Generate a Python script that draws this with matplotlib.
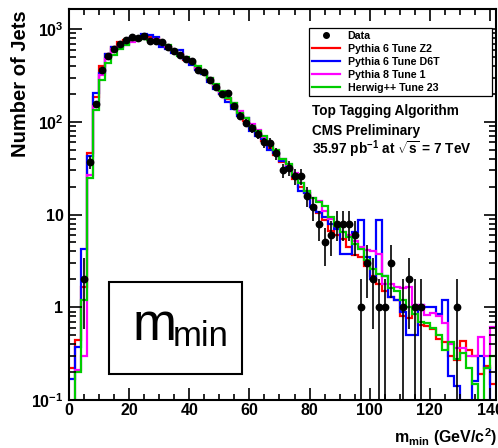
import numpy as np
import matplotlib
matplotlib.use("Agg")
import matplotlib.pyplot as plt
from matplotlib.lines import Line2D
from matplotlib.patches import Rectangle
from matplotlib.ticker import FixedLocator, FixedFormatter, MultipleLocator, LogLocator, NullFormatter

plt.rcParams['font.family'] = ['Liberation Sans', 'DejaVu Sans']
plt.rcParams['font.weight'] = 'bold'
plt.rcParams['mathtext.fontset'] = 'custom'
plt.rcParams['mathtext.rm'] = 'Liberation Sans:bold'
plt.rcParams['mathtext.bf'] = 'Liberation Sans:bold'
plt.rcParams['mathtext.it'] = 'Liberation Sans:bold'

# 2 GeV bins from 0 to 142
bin_edges = np.arange(0, 144, 2)
bin_centers = bin_edges[:-1] + 1

# data counts per bin (0 = empty)
data_counts = [0, 0, 2, 37, 156, 363, 513, 618, 690, 765,
               825, 798, 840, 738, 738, 728, 641, 585, 530, 474,
               449, 364, 345, 283, 236, 198, 203, 149, 117, 98,
               86, 74, 60, 59, 46, 30, 32, 26, 26, 16,
               12, 8, 5, 6, 8, 8, 8, 6, 1, 3,
               2, 1, 1, 3, 0, 1, 2, 1, 1, 0,
               0, 0, 0, 0, 1, 0, 0, 0, 0, 0, 0]

pythia6_z2 = [0.22, 0.44, 1.66, 46, 184, 403, 540, 641, 725, 762,
              795, 815, 845, 830, 800, 710, 640, 580, 540, 470,
              430, 375, 330, 280, 232, 200, 175, 150, 122, 102,
              88, 75, 62, 52, 44, 37, 31, 24, 20, 17,
              12.5, 10.5, 8.7, 6.7, 6.0, 5.5, 4.5, 3.7, 3.5, 2.8,
              2.2, 1.8, 1.5, 1.3, 1.2, 0.8, 0.77, 1.0, 0.65, 0.63,
              0.58, 0.45, 0.42, 0.3, 0.27, 0.43, 0.35, 0.3, 0.19, 0.23, 0.15]

pythia6_d6t = [0.17, 0.375, 4.3, 43, 205, 336, 540, 641, 645, 690,
               800, 815, 883, 870, 815, 646, 611, 560, 601, 480,
               413, 360, 330, 270, 225, 200, 165, 138, 116, 110,
               80, 70, 65, 50, 46, 38, 30, 26, 18, 17,
               12, 10.6, 9.5, 8, 7, 3.8, 3.8, 6.5, 8.8, 3.5,
               2.0, 8.8, 2.2, 1.3, 1.2, 0.9, 0.5, 0.5, 1.05, 1.0,
               1.0, 0.85, 1.2, 0.18, 0.14, 0, 0, 0.16, 0.3, 0.22, 0]

pythia8_t1 = [0, 0.21, 0.3, 27, 150, 317, 480, 605, 650, 678,
              730, 760, 800, 790, 775, 720, 650, 600, 545, 490,
              445, 385, 345, 300, 250, 210, 180, 158, 130, 110,
              95, 82, 68, 58, 50, 40, 34, 28, 22, 18,
              15, 14, 11, 9, 7.5, 6.5, 6.0, 5.2, 4.5, 4.2,
              4.0, 3.8, 1.8, 1.8, 1.66, 1.6, 1.65, 1.05, 1.05, 0.83,
              0.86, 0.8, 0.68, 0.4, 0.36, 0.36, 0.3, 0.3, 0.48, 0.3, 0.62]

herwig_t23 = [0, 0.2, 1.19, 25, 135, 285, 428, 527, 611, 667,
              755, 773, 790, 773, 765, 715, 667, 600, 518, 500,
              450, 400, 340, 295, 255, 215, 180, 160, 125, 110,
              90, 80, 70, 58, 50, 40, 35, 27, 22, 18,
              15, 13.7, 12.5, 9.4, 7.5, 6.5, 5.8, 4.8, 4.3, 3.2,
              2.6, 2.3, 2.2, 1.6, 1.5, 1.2, 1.0, 0.85, 0.7, 0.68,
              0.6, 0.5, 0.35, 0.42, 0.28, 0.32, 0.22, 0.15, 0, 0.22, 0.3]

mc_series = [
    ("Pythia 6 Tune Z2", pythia6_z2, "#ff0000"),
    ("Pythia 6 Tune D6T", pythia6_d6t, "#0000ff"),
    ("Pythia 8 Tune 1", pythia8_t1, "#ff00ff"),
    ("Herwig++ Tune 23", herwig_t23, "#00cc00"),
]

W, H = 498, 448
fig = plt.figure(figsize=(W / 100, H / 100), dpi=100)
ax = fig.add_axes([69 / W, 48 / H, 427 / W, 391 / H])

for label, vals, col in mc_series:
    v = np.array(vals, dtype=float)
    v = np.where(v > 0, v, 1e-4)  # empty bins drop to the axis
    ax.stairs(v, bin_edges, baseline=None, color=col, lw=1.6, label=label)

n = np.array(data_counts, dtype=float)
m = n > 0
err = np.sqrt(n[m])
lo = np.minimum(err, n[m] - 1e-4)
ax.errorbar(bin_centers[m], n[m], yerr=[lo, err], fmt='o', color='black',
            ms=4.6, elinewidth=1.2, capsize=0, zorder=5, label='Data')

ax.set_yscale('log')
ax.set_xlim(0, 142)
ax.set_ylim(0.1, 1650)

ax.xaxis.set_major_locator(MultipleLocator(20))
ax.xaxis.set_minor_locator(MultipleLocator(5))
ax.yaxis.set_major_locator(FixedLocator([0.1, 1, 10, 100, 1000]))
ax.yaxis.set_major_formatter(FixedFormatter([r'$10^{-1}$', '1', '10', r'$10^{2}$', r'$10^{3}$']))
ax.yaxis.set_minor_locator(LogLocator(base=10, subs=np.arange(2, 10)))
ax.yaxis.set_minor_formatter(NullFormatter())

ax.tick_params(which='both', direction='in', top=True, right=True, width=1.2, labelsize=11.5)
ax.tick_params(axis='x', which='major', length=8.5, pad=2)
ax.tick_params(axis='x', which='minor', length=4.3)
ax.tick_params(axis='y', which='major', length=9, pad=4)
ax.tick_params(axis='y', which='minor', length=5)
for s in ax.spines.values():
    s.set_linewidth(1.5)

# legend
handles = [Line2D([], [], marker='o', ls='none', color='black', ms=4)]
labels = ['Data']
for label, vals, col in mc_series:
    handles.append(Line2D([], [], color=col, lw=1.6))
    labels.append(label)
leg = ax.legend(handles, labels, loc='upper left', mode='expand',
                bbox_to_anchor=(309 / W, 1 - 99 / H, 183 / W, 71 / H),
                bbox_transform=fig.transFigure, borderaxespad=0,
                prop={'size': 7.7, 'weight': 'bold'}, handlelength=2.6,
                labelspacing=0.28, borderpad=0.3, handletextpad=0.7,
                fancybox=False, framealpha=1)
leg.get_frame().set_edgecolor('black')
leg.get_frame().set_linewidth(0.9)

fig.text(312 / W, 1 - 111 / H, 'Top Tagging Algorithm', fontsize=9.8, va='center')
fig.text(312 / W, 1 - 131 / H, 'CMS Preliminary', fontsize=9.8, va='center')
fig.text(312 / W, 1 - 149 / H, r'35.97 pb$^{-1}$ at $\sqrt{s}$ = 7 TeV', fontsize=9.8, va='center')

# variable name box
fig.add_artist(Rectangle((109 / W, 1 - 374 / H), 133 / W, 92 / H, transform=fig.transFigure,
                         fill=False, edgecolor='black', lw=1.5))
fig.text(133 / W, 1 - 340 / H, 'm', fontsize=38, fontweight='normal', va='baseline')
fig.text(173 / W, 1 - 346 / H, 'min', fontsize=25, fontweight='normal', va='baseline')

fig.text(21 / W, 1 - 84 / H, 'Number of Jets', rotation=90, fontsize=14.5, ha='center', va='center')
fig.text(497 / W, 1 - 437 / H, r'm$_{min}$ (GeV/c$^{2}$)', fontsize=11.5, ha='right', va='center')

fig.savefig('out.png', dpi=100)
